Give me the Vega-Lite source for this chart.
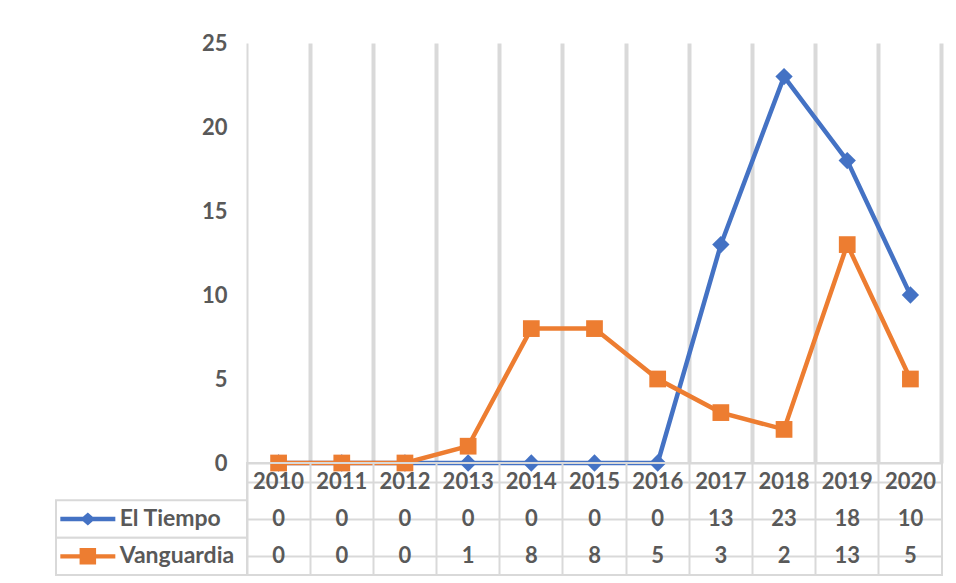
{
  "$schema": "https://vega.github.io/schema/vega-lite/v6.json",
  "background": "white",
  "padding": {"left": 55, "top": 32, "right": 5, "bottom": 5},
  "config": {"font": "Lato", "view": {"stroke": null}},
  "data": {"values": [
    {"year": "2010", "series": "El Tiempo", "value": 0},
    {"year": "2011", "series": "El Tiempo", "value": 0},
    {"year": "2012", "series": "El Tiempo", "value": 0},
    {"year": "2013", "series": "El Tiempo", "value": 0},
    {"year": "2014", "series": "El Tiempo", "value": 0},
    {"year": "2015", "series": "El Tiempo", "value": 0},
    {"year": "2016", "series": "El Tiempo", "value": 0},
    {"year": "2017", "series": "El Tiempo", "value": 13},
    {"year": "2018", "series": "El Tiempo", "value": 23},
    {"year": "2019", "series": "El Tiempo", "value": 18},
    {"year": "2020", "series": "El Tiempo", "value": 10},
    {"year": "2010", "series": "Vanguardia", "value": 0},
    {"year": "2011", "series": "Vanguardia", "value": 0},
    {"year": "2012", "series": "Vanguardia", "value": 0},
    {"year": "2013", "series": "Vanguardia", "value": 1},
    {"year": "2014", "series": "Vanguardia", "value": 8},
    {"year": "2015", "series": "Vanguardia", "value": 8},
    {"year": "2016", "series": "Vanguardia", "value": 5},
    {"year": "2017", "series": "Vanguardia", "value": 3},
    {"year": "2018", "series": "Vanguardia", "value": 2},
    {"year": "2019", "series": "Vanguardia", "value": 13},
    {"year": "2020", "series": "Vanguardia", "value": 5}
  ]},
  "columns": 2,
  "spacing": 0,
  "bounds": "flush",
  "resolve": {"scale": {"shape": "independent", "size": "independent", "x": "independent", "y": "independent"}},
  "concat": [
    {
      "width": 191,
      "height": 420,
      "transform": [{"filter": "datum.year === 'none'"}],
      "mark": {"type": "text"},
      "encoding": {"text": {"field": "year"}}
    },
    {
      "width": 695,
      "height": 420,
      "encoding": {
        "x": {"field": "year", "type": "ordinal", "bandPosition": 0.5,
          "scale": {"type": "band", "paddingInner": 0, "paddingOuter": 0},
          "axis": {"title": null, "labels": false, "ticks": false, "domain": true, "domainColor": "#d9d9d9", "domainWidth": 2,
            "grid": true, "bandPosition": 1, "gridColor": "#d9d9d9", "gridWidth": 4, "minExtent": 0, "maxExtent": 0, "zindex": 0}},
        "y": {"field": "value", "type": "quantitative",
          "scale": {"domain": [0, 25]},
          "axis": {"title": null, "values": [0, 5, 10, 15, 20, 25], "grid": false, "ticks": false,
            "domain": true, "domainColor": "#d9d9d9", "domainWidth": 2, "zindex": 0,
            "labelFont": "Lato", "labelFontSize": 22, "labelFontWeight": "bold", "labelColor": "#595959",
            "labelPadding": 20}},
        "color": {"field": "series", "type": "nominal",
          "scale": {"domain": ["El Tiempo", "Vanguardia"], "range": ["#4472C4", "#ED7D31"]},
          "legend": null}
      },
      "layer": [
        {"mark": {"type": "line", "strokeWidth": 4.5}},
        {"mark": {"type": "point", "filled": true, "opacity": 1},
          "encoding": {
            "shape": {"field": "series", "type": "nominal",
              "scale": {"domain": ["El Tiempo", "Vanguardia"], "range": ["diamond", "square"]}, "legend": null},
            "size": {"field": "series", "type": "nominal",
              "scale": {"domain": ["El Tiempo", "Vanguardia"], "range": [300, 280]}, "legend": null}}}
      ]
    },
    {
      "width": 191,
      "height": 112,
      "transform": [{"filter": "datum.year === '2010'"}],
      "encoding": {
        "y": {"field": "series", "type": "nominal",
          "scale": {"domain": ["Year", "El Tiempo", "Vanguardia"], "paddingInner": 0, "paddingOuter": 0},
          "axis": null}
      },
      "layer": [
        {"mark": {"type": "rect", "fill": "white", "stroke": "#d9d9d9", "strokeWidth": 2}},
        {"mark": {"type": "point", "filled": true, "opacity": 1, "size": 3025, "strokeWidth": 0},
          "encoding": {
            "x": {"datum": "key", "type": "nominal",
              "scale": {"type": "band", "domain": ["key", "label", "rest"], "paddingInner": 0, "paddingOuter": 0},
              "axis": null},
            "shape": {"field": "series", "type": "nominal",
              "scale": {"domain": ["El Tiempo", "Vanguardia"],
                "range": ["M-1,-0.08L1,-0.08L1,0.08L-1,0.08ZM-0.27,0L0,-0.24L0.27,0L0,0.24Z", "M-1,-0.08L1,-0.08L1,0.08L-1,0.08ZM-0.3,-0.3L0.3,-0.3L0.3,0.3L-0.3,0.3Z"]},
              "legend": null},
            "color": {"field": "series", "type": "nominal",
              "scale": {"domain": ["El Tiempo", "Vanguardia"], "range": ["#4472C4", "#ED7D31"]},
              "legend": null}
          }},
        {"mark": {"type": "text", "font": "Lato", "fontSize": 23, "fontWeight": "bold", "color": "#595959", "baseline": "middle", "align": "left"},
          "encoding": {
            "x": {"datum": "label", "type": "nominal", "bandPosition": 0},
            "text": {"field": "series"}
          }}
      ]
    },
    {
      "width": 695,
      "height": 112,
      "view": {"stroke": "#d9d9d9", "strokeWidth": 2},
      "encoding": {
        "x": {"field": "year", "type": "ordinal",
          "scale": {"type": "band", "paddingInner": 0, "paddingOuter": 0},
          "axis": {"title": null, "labels": false, "ticks": false, "domain": false, "grid": true, "bandPosition": 0,
            "gridColor": "#d9d9d9", "gridWidth": 2, "minExtent": 0, "maxExtent": 0}}
      },
      "layer": [
        {
          "transform": [{"filter": "datum.series === 'El Tiempo'"}],
          "mark": {"type": "text", "font": "Lato", "fontSize": 22, "fontWeight": "bold", "color": "#595959", "baseline": "middle"},
          "encoding": {
            "y": {"datum": "Year", "type": "nominal",
              "scale": {"domain": ["Year", "El Tiempo", "Vanguardia"], "paddingInner": 0, "paddingOuter": 0},
              "axis": {"title": null, "labels": false, "ticks": false, "domain": false, "grid": true, "bandPosition": 0,
                "gridColor": "#d9d9d9", "gridWidth": 2, "minExtent": 0, "maxExtent": 0}},
            "text": {"field": "year"}
          }
        },
        {
          "mark": {"type": "text", "font": "Lato", "fontSize": 22, "fontWeight": "bold", "color": "#595959", "baseline": "middle"},
          "encoding": {
            "y": {"field": "series", "type": "nominal"},
            "text": {"field": "value", "type": "quantitative"}
          }
        }
      ]
    }
  ]
}
